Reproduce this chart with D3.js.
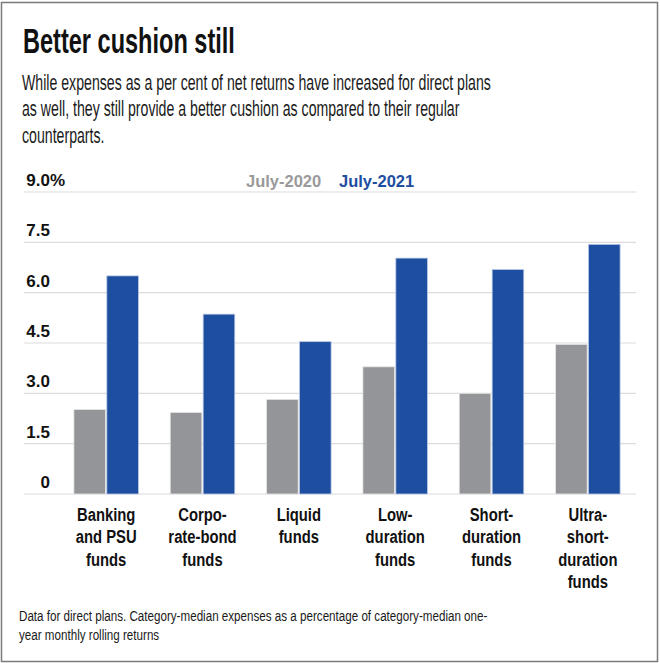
<!DOCTYPE html>
<html>
<head>
<meta charset="utf-8">
<script src="https://cdn.jsdelivr.net/npm/d3@7"></script>
<style>
  body { margin: 0; background: #fff; }
  svg { display: block; }
  text { font-family: "Liberation Sans", Arial, sans-serif; }
</style>
</head>
<body>
<svg id="chart"></svg>
<script>
const categories = [
  ["Banking", "and PSU", "funds"],
  ["Corpo-", "rate-bond", "funds"],
  ["Liquid", "funds"],
  ["Low-", "duration", "funds"],
  ["Short-", "duration", "funds"],
  ["Ultra-", "short-", "duration", "funds"]
];
const seriesNames = ["July-2020", "July-2021"];
const july2020 = [2.52, 2.43, 2.82, 3.79, 3.0, 4.46];
const july2021 = [6.5, 5.36, 4.54, 7.03, 6.69, 7.44];
const yTicks = [0, 1.5, 3.0, 4.5, 6.0, 7.5, 9.0];

const colors = ["#939598", "#1e4e9f"];
const legendColors = ["#9a9a9a", "#1e4e9f"];

const W = 660, H = 663;
const svg = d3.select("#chart").attr("width", W).attr("height", H);

// squeeze a block of lines horizontally so the first line gets the target width
function condensedBlock(lines, x, y0, lineH, size, weight, targetW, fill) {
    const g = svg.append("g");
    const t = g.selectAll("text")
        .data(lines)
        .enter().append("text")
        .attr("x", 0)
        .attr("y", (d, i) => i * lineH)
        .attr("font-size", size)
        .attr("font-weight", weight)
        .attr("fill", fill)
        .text(d => d);
    const s = targetW / t.node().getComputedTextLength();
    g.attr("transform", `translate(${x},${y0}) scale(${s},1)`);
    return g;
}

// frame
svg.append("rect")
    .attr("x", 1.5).attr("y", 2.5)
    .attr("width", 656).attr("height", 659)
    .attr("fill", "none")
    .attr("stroke", "#7a7a7a")
    .attr("stroke-width", 1.5);

condensedBlock(["Better cushion still"], 23, 52.5, 0, 34.5, "bold", 212, "#111");

condensedBlock([
  "While expenses as a per cent of net returns have increased for direct plans",
  "as well, they still provide a better cushion as compared to their regular",
  "counterparts."
], 22, 89.5, 26.8, 21.5, "normal", 469, "#1a1a1a");

const x0 = d3.scaleBand()
    .domain(d3.range(categories.length))
    .range([58, 636])
    .paddingInner(0.33)
    .paddingOuter(0.165);

const x1 = d3.scaleBand()
    .domain([0, 1])
    .range([0, x0.bandwidth()])
    .paddingInner(0.04);

const y = d3.scaleLinear()
    .domain([0, 9])
    .range([494, 192]);

// grid lines
svg.append("g").selectAll("line")
    .data(yTicks)
    .enter().append("line")
    .attr("x1", 24).attr("x2", 636)
    .attr("y1", d => y(d)).attr("y2", d => y(d))
    .attr("stroke", "#dcdcdc")
    .attr("stroke-width", 1.2);

// tick labels
svg.append("g").selectAll("text")
    .data(yTicks)
    .enter().append("text")
    .attr("x", 50)
    .attr("y", d => y(d) - 6)
    .attr("text-anchor", "end")
    .attr("font-size", 17).attr("font-weight", "bold")
    .attr("fill", "#111")
    .text(d => d === 0 ? "0" : d.toFixed(1));

svg.append("text")
    .attr("x", 50)
    .attr("y", y(9) - 6)
    .attr("font-size", 17).attr("font-weight", "bold")
    .attr("fill", "#111")
    .text("%");

// legend
const legendX = [246, 339];
svg.append("g").selectAll("text")
    .data(seriesNames)
    .enter().append("text")
    .attr("x", (d, i) => legendX[i])
    .attr("y", 187)
    .attr("font-size", 16.5).attr("font-weight", "bold")
    .attr("fill", (d, i) => legendColors[i])
    .text(d => d);

// bars
const groups = svg.append("g").selectAll("g")
    .data(categories.map((c, i) => [july2020[i], july2021[i]]))
    .enter().append("g")
    .attr("transform", (d, i) => `translate(${x0(i)},0)`);

groups.selectAll("rect")
    .data(d => d)
    .enter().append("rect")
    .attr("x", (d, j) => x1(j))
    .attr("y", d => y(d))
    .attr("width", x1.bandwidth())
    .attr("height", d => y(0) - y(d))
    .attr("fill", (d, j) => colors[j])
    .attr("stroke", (d, j) => j === 0 ? "#e6e6e6" : "#b9c9e6")
    .attr("stroke-width", 0.8);

// category labels, condensed
const labels = svg.append("g").selectAll("text")
    .data(categories)
    .enter().append("text")
    .attr("transform", (d, i) => `translate(${x0(i) + x0.bandwidth() / 2},521) scale(0.78,1)`)
    .attr("text-anchor", "middle")
    .attr("font-size", 19).attr("font-weight", "bold")
    .attr("fill", "#111");

labels.selectAll("tspan")
    .data(d => d)
    .enter().append("tspan")
    .attr("x", 0)
    .attr("dy", (d, i) => i === 0 ? 0 : 22.5)
    .text(d => d);

condensedBlock([
  "Data for direct plans. Category-median expenses as a percentage of category-median one-",
  "year monthly rolling returns"
], 19, 621, 19.5, 15.5, "normal", 469, "#1a1a1a");
</script>
</body>
</html>
